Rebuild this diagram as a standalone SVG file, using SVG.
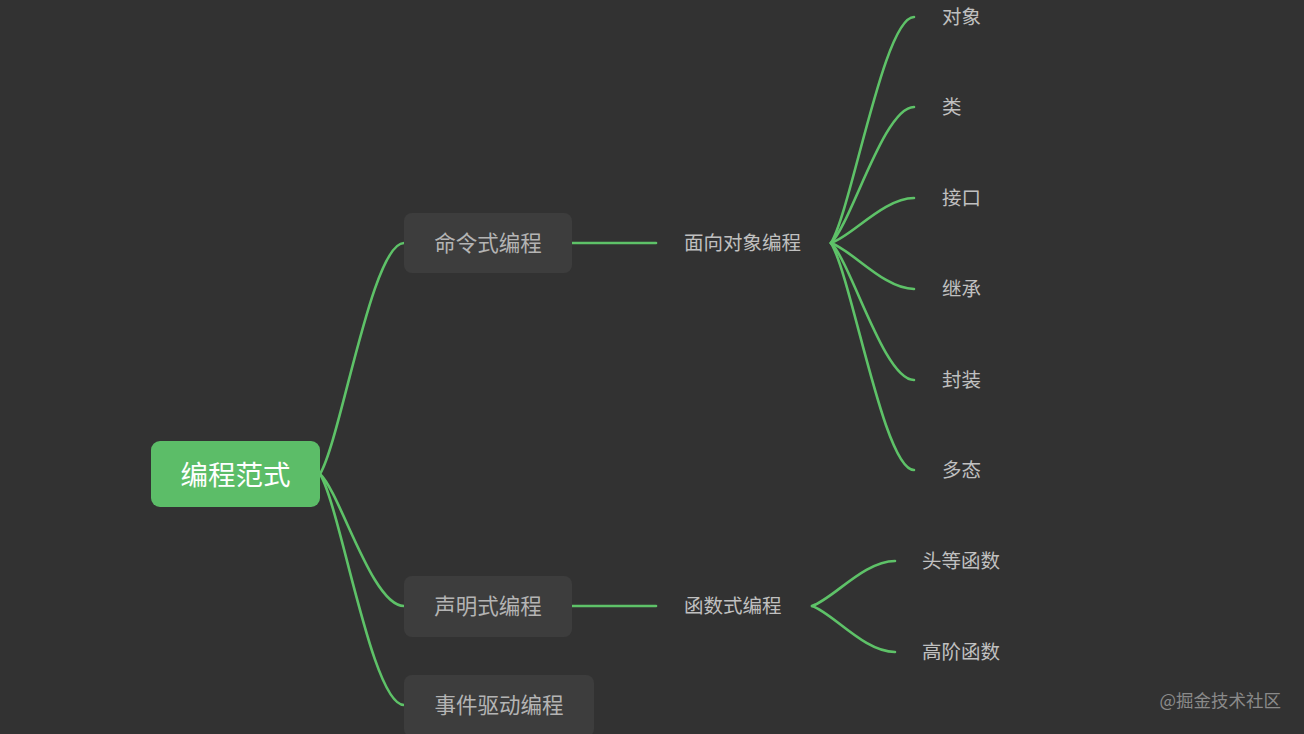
<svg xmlns="http://www.w3.org/2000/svg" width="1304" height="734" viewBox="0 0 1304 734">
<style>
.bg{fill:#323232}
.root{fill:#5cbd68}
.box{fill:#3d3d3d}
.link{fill:none;stroke:#5ec268;stroke-width:2.6;stroke-linecap:round}
text{font-family:"Noto Sans CJK SC","Noto Sans",sans-serif;dominant-baseline:central}
.t-root{font-size:27.5px;fill:#ffffff;text-anchor:middle}
.t-box{font-size:21.5px;fill:#b4b4b4;text-anchor:middle}
.t-sub{font-size:19.5px;fill:#c0c0c0}
.t-leaf{font-size:19.5px;fill:#c0c0c0}
.t-wm{font-size:17.5px;fill:#8a8a8a;text-anchor:end}
</style>
<rect class="bg" x="0" y="0" width="1304" height="734"/>
<g id="connectors">
<path class="link" d="M320,474 C341,439.4 372,243 404,243"/>
<path class="link" d="M320,474 C341,493.8 372,606 404,606"/>
<path class="link" d="M320,474 C341,508.6 372,705 404,705"/>
<path class="link" d="M572,243 L656,243"/>
<path class="link" d="M572,606 L656,606"/>
<path class="link" d="M831,243 C851.75,209.1 884,17 914,17"/>
<path class="link" d="M831,243 C851.75,222.6 884,107 914,107"/>
<path class="link" d="M831,243 C851.75,236.2 884,198 914,198"/>
<path class="link" d="M831,243 C851.75,249.9 884,289 914,289"/>
<path class="link" d="M831,243 C851.75,263.6 884,380 914,380"/>
<path class="link" d="M831,243 C851.75,277 884,470 914,470"/>
<path class="link" d="M812,606 C832.75,599.2 864,561 895,561"/>
<path class="link" d="M812,606 C832.75,612.9 864,652 895,652"/>
</g>
<g id="node-root">
<rect class="root" x="151" y="441" width="169" height="66" rx="9"/>
<text class="t-root" x="235.5" y="472.5">编程范式</text>
</g>
<g id="node-imperative">
<rect class="box" x="404" y="213" width="168" height="60" rx="8"/>
<text class="t-box" x="488" y="241.5">命令式编程</text>
</g>
<g id="node-declarative">
<rect class="box" x="404" y="576" width="168" height="61" rx="8"/>
<text class="t-box" x="488" y="604.5">声明式编程</text>
</g>
<g id="node-event">
<rect class="box" x="404" y="675" width="190" height="62" rx="8"/>
<text class="t-box" x="499" y="703.5">事件驱动编程</text>
</g>
<g id="node-oop">
<text class="t-sub" x="684" y="241.5">面向对象编程</text>
</g>
<g id="node-fp">
<text class="t-sub" x="684" y="604.5">函数式编程</text>
</g>
<g id="leaf-object"><text class="t-leaf" x="942" y="15.5">对象</text></g>
<g id="leaf-class"><text class="t-leaf" x="942" y="105.5">类</text></g>
<g id="leaf-interface"><text class="t-leaf" x="942" y="196.5">接口</text></g>
<g id="leaf-inherit"><text class="t-leaf" x="942" y="287.5">继承</text></g>
<g id="leaf-encap"><text class="t-leaf" x="942" y="378.5">封装</text></g>
<g id="leaf-poly"><text class="t-leaf" x="942" y="468.5">多态</text></g>
<g id="leaf-firstclass"><text class="t-leaf" x="922" y="559.5">头等函数</text></g>
<g id="leaf-higherorder"><text class="t-leaf" x="922" y="650.5">高阶函数</text></g>
<g id="watermark"><text class="t-wm" x="1281" y="699.5">@掘金技术社区</text></g>
</svg>
